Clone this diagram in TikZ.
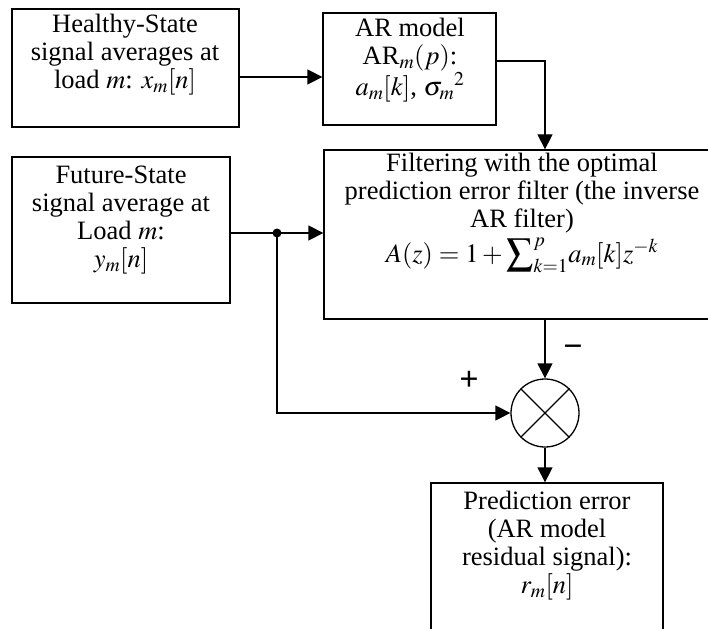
\documentclass[tikz,border=0pt]{standalone}
\usepackage{mathptmx}
\usepackage[no-math]{fontspec}
\setmainfont{Liberation Serif}
\usetikzlibrary{arrows.meta}
\tikzset{
  blk/.style={draw, line width=1.3pt, inner sep=0pt},
  txt/.style={align=center, inner sep=0pt, font=\fontsize{26.5}{28}\selectfont},
  flow/.style={line width=1.3pt, -{Triangle[length=15pt,width=15pt]}},
  sgn/.style={inner sep=0pt, font=\fontsize{34}{34}\selectfont\bfseries},
}
\begin{document}
\begin{tikzpicture}[x=1pt,y=-1pt]
\useasboundingbox (0,0) rectangle (708,628);
\clip (0,0) rectangle (708,628);

% blocks
\node[blk, minimum width=227pt, minimum height=118pt] (hs) at (125.5,68) {};
\node[txt] (hst) at (125,55) {Healthy-State\\signal averages at\\load $m$: $x_m[n]$};

\node[blk, minimum width=173pt, minimum height=112pt] (ar) at (409.5,69) {};
\node[txt] (art) at (410,60) {AR model\\AR$_m(p)$:\\$a_m[k]$, $\sigma_m{}^2$};

\node[blk, minimum width=218pt, minimum height=146pt] (fs) at (121,230) {};
\node[txt] (fst) at (121,220) {Future-State\\signal average at\\Load $m$:\\$y_m[n]$};

\node[blk, minimum width=396pt, minimum height=169pt] (flt) at (522,234.5) {};
\node[txt] (fltt) at (522,213) {Filtering with the optimal\\prediction error filter (the inverse\\AR filter)\\[4pt]$A(z)=1+{\displaystyle\sum\nolimits_{k=1}^{p}} a_m[k]z^{-k}$};

\node[draw, circle, line width=1.3pt, minimum size=68pt, inner sep=0pt] (mx) at (545,413) {};
\draw[line width=1.3pt] (mx.45) -- (mx.225) (mx.135) -- (mx.315);

\node[blk, minimum width=232pt, minimum height=160pt] (pe) at (547,563) {};
\node[txt] (pet) at (547,546) {Prediction error\\(AR model\\residual signal):\\$r_m[n]$};

% connectors
\draw[flow] (hs.east |- 0,77) -- (ar.west |- 0,77);
\coordinate (arc) at (545,61);
\draw[flow] (ar.east |- arc) -- (arc) -- (arc |- flt.north);
\coordinate (jn) at (277,233);
\draw[flow] (fs.east |- jn) -- (flt.west |- jn);
\fill (jn) circle (4.5pt);
\draw[flow] (jn) -- (jn |- mx.west) -- (mx.west);
\draw[flow] (flt.south -| mx.north) -- (mx.north);
\draw[flow] (mx.south) -- (mx.south |- pe.north);

\node[sgn] (plus) at (469,381) {+};
\node[sgn] (minus) at (573,351) {−};
\end{tikzpicture}
\end{document}
